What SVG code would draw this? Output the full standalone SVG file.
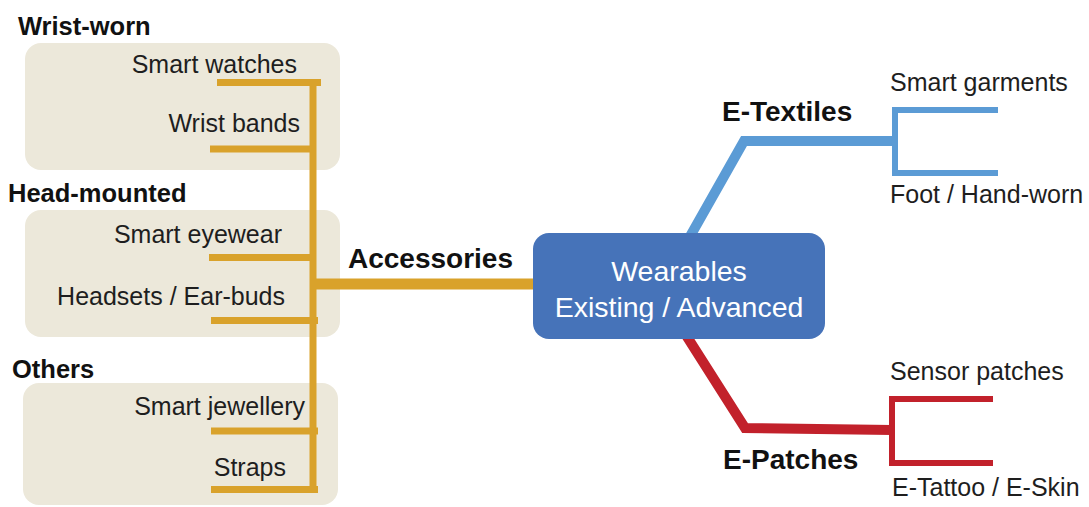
<svg xmlns="http://www.w3.org/2000/svg" width="1089" height="507" viewBox="0 0 1089 507">
<style>
.box{fill:#ece8da}
.t{font-family:"Liberation Sans",Arial,sans-serif;font-size:25px;fill:#1e1e1e}
.h{font-family:"Liberation Sans",Arial,sans-serif;font-size:25.5px;font-weight:bold;fill:#111}
.b{font-family:"Liberation Sans",Arial,sans-serif;font-size:28px;font-weight:bold;fill:#111}
.gold{stroke:#d9a22b;fill:none}
.blue{stroke:#5b9bd5;fill:none}
.red{stroke:#c2212b;fill:none}
</style>
<rect width="1089" height="507" fill="#fff"/>
<g id="group-wrist">
<rect class="box" x="25" y="43" width="315" height="127" rx="16"/>
<text class="h" x="18" y="35">Wrist-worn</text>
<text class="t" x="297" y="73" text-anchor="end">Smart watches</text>
<text class="t" x="300" y="132" text-anchor="end">Wrist bands</text>
</g>
<g id="group-head">
<rect class="box" x="25" y="210" width="315" height="127" rx="16"/>
<text class="h" x="8" y="202">Head-mounted</text>
<text class="t" x="282" y="243" text-anchor="end">Smart eyewear</text>
<text class="t" x="285" y="305" text-anchor="end">Headsets / Ear-buds</text>
</g>
<g id="group-others">
<rect class="box" x="23" y="383" width="315" height="122" rx="16"/>
<text class="h" x="12" y="378">Others</text>
<text class="t" x="305" y="415" text-anchor="end">Smart jewellery</text>
<text class="t" x="286" y="476" text-anchor="end">Straps</text>
</g>
<g id="connectors">
<g class="gold">
<line x1="313" y1="79" x2="313" y2="493" stroke-width="7"/>
<line x1="217" y1="82.5" x2="321" y2="82.5" stroke-width="7"/>
<line x1="210" y1="149" x2="313" y2="149" stroke-width="7"/>
<line x1="209" y1="257.5" x2="313" y2="257.5" stroke-width="7"/>
<line x1="211" y1="320.5" x2="318" y2="320.5" stroke-width="7"/>
<line x1="211" y1="431" x2="318" y2="431" stroke-width="7"/>
<line x1="211" y1="489.5" x2="318" y2="489.5" stroke-width="7"/>
<line x1="313" y1="284" x2="540" y2="284" stroke-width="11"/>
</g>
<g class="blue">
<polyline points="688,240 744,141 895,141" stroke-width="10" stroke-linejoin="miter"/>
<polyline points="998,110 895,110 895,173 998,173" stroke-width="6"/>
</g>
<g class="red">
<polyline points="684,332 745,428 892,430" stroke-width="10" stroke-linejoin="miter"/>
<polyline points="993,399 892,399 892,463 993,463" stroke-width="6"/>
</g>
</g>
<g id="node-accessories">
<text class="b" x="348" y="268">Accessories</text>
</g>
<g id="node-center">
<rect x="533" y="233" width="292" height="106" rx="16" fill="#4673b9"/>
<text x="679" y="281" text-anchor="middle" font-family="Liberation Sans, Arial, sans-serif" font-size="28.5" fill="#fff">Wearables</text>
<text x="679" y="317" text-anchor="middle" font-family="Liberation Sans, Arial, sans-serif" font-size="28.5" fill="#fff">Existing / Advanced</text>
</g>
<g id="node-etextiles">
<text class="b" x="722" y="121">E-Textiles</text>
<text class="t" x="890" y="91">Smart garments</text>
<text class="t" x="890" y="203">Foot / Hand-worn</text>
</g>
<g id="node-epatches">
<text class="b" x="723" y="469">E-Patches</text>
<text class="t" x="890" y="380">Sensor patches</text>
<text class="t" x="892" y="496">E-Tattoo / E-Skin</text>
</g>
</svg>
